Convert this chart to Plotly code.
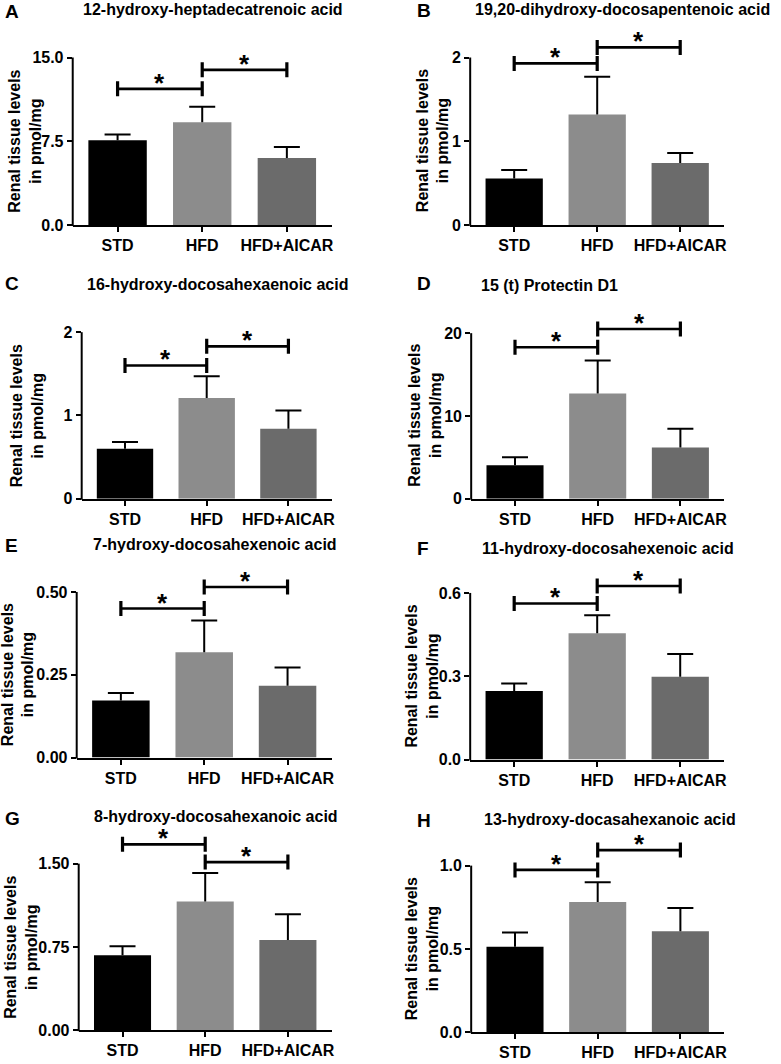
import plotly.graph_objects as go

W, H = 781, 1064

groups = ["STD", "HFD", "HFD+AICAR"]
bar_colors = ["#000000", "#8c8c8c", "#6b6b6b"]

letters = ["A", "B", "C", "D", "E", "F", "G", "H"]
titles = [
    "12-hydroxy-heptadecatrenoic acid",
    "19,20-dihydroxy-docosapentenoic acid",
    "16-hydroxy-docosahexaenoic acid",
    "15 (t) Protectin D1",
    "7-hydroxy-docosahexenoic acid",
    "11-hydroxy-docosahexenoic acid",
    "8-hydroxy-docosahexanoic acid",
    "13-hydroxy-docasahexanoic acid",
]

# means and SEM (upper error) per panel, order STD, HFD, HFD+AICAR
mean_A = [7.6, 9.2, 6.0];      sem_A = [0.5, 1.4, 1.0]
mean_B = [0.556, 1.32, 0.74];  sem_B = [0.10, 0.45, 0.12]
mean_C = [0.60, 1.21, 0.84];   sem_C = [0.08, 0.26, 0.22]
mean_D = [4.06, 12.7, 6.2];    sem_D = [0.94, 4.0, 2.25]
mean_E = [0.172, 0.318, 0.217]; sem_E = [0.023, 0.096, 0.055]
mean_F = [0.247, 0.455, 0.298]; sem_F = [0.027, 0.065, 0.082]
mean_G = [0.674, 1.158, 0.813]; sem_G = [0.083, 0.258, 0.232]
mean_H = [0.513, 0.781, 0.606]; sem_H = [0.085, 0.119, 0.139]

# significance bracket heights: [STD vs HFD, HFD vs HFD+AICAR]
brk_A = [12.2, 13.9]
brk_B = [1.93, 2.12]
brk_C = [1.60, 1.83]
brk_D = [18.3, 20.5]
brk_E = [0.45, 0.515]
brk_F = [0.562, 0.625]
brk_G = [1.674, 1.514]
brk_H = [0.974, 1.093]
sig_pairs = [(0, 1), (1, 2)]

# y ticks
ytick_A = [0, 7.5, 15];     ylab_A = ["0.0", "7.5", "15.0"]
ytick_B = [0, 1, 2];        ylab_B = ["0", "1", "2"]
ytick_C = [0, 1, 2];        ylab_C = ["0", "1", "2"]
ytick_D = [0, 10, 20];      ylab_D = ["0", "10", "20"]
ytick_E = [0, 0.25, 0.5];   ylab_E = ["0.00", "0.25", "0.50"]
ytick_F = [0, 0.3, 0.6];    ylab_F = ["0.0", "0.3", "0.6"]
ytick_G = [0, 0.75, 1.5];   ylab_G = ["0.00", "0.75", "1.50"]
ytick_H = [0, 0.5, 1.0];    ylab_H = ["0.0", "0.5", "1.0"]

means = [mean_A, mean_B, mean_C, mean_D, mean_E, mean_F, mean_G, mean_H]
sems = [sem_A, sem_B, sem_C, sem_D, sem_E, sem_F, sem_G, sem_H]
brks = [brk_A, brk_B, brk_C, brk_D, brk_E, brk_F, brk_G, brk_H]
yticks = [ytick_A, ytick_B, ytick_C, ytick_D, ytick_E, ytick_F, ytick_G, ytick_H]
ylabs = [ylab_A, ylab_B, ylab_C, ylab_D, ylab_E, ylab_F, ylab_G, ylab_H]

# layout geometry in pixels: axis left, axis right, axis bottom, top tick
geom = [
    (73, 333, 227, 58),
    (472, 727, 227, 58),
    (82, 333, 503, 335),
    (473, 727, 503, 336),
    (77, 333, 764, 597),
    (472, 727, 766, 598),
    (79, 333, 1039, 871),
    (473, 727, 1041, 873),
]
title_pos = [(214, 10), (625, 10), (218, 287), (552, 288), (216, 549), (610, 553), (217, 823), (612, 826)]
letter_pos = [(3, 12), (417, 11), (3, 286), (417, 286), (3, 550), (417, 553), (3, 825), (417, 827)]
ytitle_pos = [(25, 142), (434, 142), (28, 419), (427, 419), (18, 680), (424, 682), (21, 955), (424, 957)]

FONT = "Liberation Sans, Arial, sans-serif"
EXT = 1.25
XR = [-0.53, 2.53]

fig = go.Figure()
shapes = []
annotations = []
layout_axes = {}

for i in range(8):
    n = "" if i == 0 else str(i + 1)
    xa, ya = "x" + n, "y" + n
    left, right, y0, ytop = geom[i]
    tmax = yticks[i][-1]
    ytop_ext = y0 - EXT * (y0 - ytop)

    fig.add_trace(go.Bar(
        x=list(range(3)), y=means[i], xaxis=xa, yaxis=ya,
        marker=dict(color=bar_colors, line=dict(width=0)),
        width=0.69, showlegend=False, hoverinfo="skip",
    ))

    layout_axes["xaxis" + n] = dict(
        domain=[left / W, right / W], anchor=ya, range=XR,
        tickmode="array", tickvals=list(range(3)), ticktext=groups,
        showline=True, linecolor="black", linewidth=2,
        ticks="outside", ticklen=5, tickwidth=2, tickcolor="black",
        tickfont=dict(family=FONT, size=16, color="black", weight="bold"),
        showgrid=False, zeroline=False, fixedrange=True,
    )
    layout_axes["yaxis" + n] = dict(
        domain=[1 - y0 / H, 1 - ytop_ext / H], anchor=xa,
        range=[0, EXT * tmax],
        tickmode="array", tickvals=yticks[i], ticktext=ylabs[i],
        showline=False, ticks="outside", ticklen=5, tickwidth=2, tickcolor="black",
        tickfont=dict(family=FONT, size=16, color="black", weight="bold"),
        showgrid=False, zeroline=False, fixedrange=True,
    )

    # y axis line drawn up to the top tick only
    shapes.append(dict(type="line", xref="paper", yref="paper",
                       x0=left / W, x1=left / W, y0=1 - (y0 + 1) / H, y1=1 - ytop / H,
                       line=dict(color="black", width=2)))

    # upper SEM error bars
    for k in range(3):
        top = means[i][k] + sems[i][k]
        shapes.append(dict(type="line", xref=xa, yref=ya, x0=k, x1=k,
                           y0=means[i][k], y1=top, line=dict(color="black", width=2)))
        shapes.append(dict(type="line", xref=xa, yref=ya, xsizemode="pixel", xanchor=k,
                           x0=-13, x1=13, y0=top, y1=top, line=dict(color="black", width=2)))

    # significance brackets
    for (a, b), yb in zip(sig_pairs, brks[i]):
        shapes.append(dict(type="line", xref=xa, yref=ya, x0=a, x1=b, y0=yb, y1=yb,
                           line=dict(color="black", width=2.7)))
        for xc in (a, b):
            shapes.append(dict(type="line", xref=xa, yref=ya, x0=xc, x1=xc,
                               ysizemode="pixel", yanchor=yb, y0=-7.5, y1=7.5,
                               line=dict(color="black", width=3.2)))
        annotations.append(dict(xref=xa, yref=ya, x=(a + b) / 2, y=yb, text="*",
                                showarrow=False, yanchor="middle", yshift=6,
                                font=dict(family=FONT, size=26, color="black", weight="bold")))

    tx, ty = title_pos[i]
    annotations.append(dict(xref="paper", yref="paper", x=tx / W, y=1 - ty / H,
                            text=titles[i], showarrow=False, xanchor="center", yanchor="middle",
                            font=dict(family=FONT, size=16, color="black", weight="bold")))
    lx, ly = letter_pos[i]
    annotations.append(dict(xref="paper", yref="paper", x=lx / W, y=1 - ly / H,
                            text=letters[i], showarrow=False, xanchor="left", yanchor="middle",
                            font=dict(family=FONT, size=19, color="black", weight="bold")))
    yx, yy = ytitle_pos[i]
    annotations.append(dict(xref="paper", yref="paper", x=yx / W, y=1 - yy / H,
                            text="Renal tissue levels<br>in pmol/mg", textangle=-90,
                            showarrow=False, xanchor="center", yanchor="middle",
                            font=dict(family=FONT, size=16, color="black", weight="bold")))

fig.update_layout(
    width=W, height=H,
    margin=dict(l=0, r=0, t=0, b=0),
    paper_bgcolor="white", plot_bgcolor="rgba(0,0,0,0)",
    shapes=shapes, annotations=annotations,
    showlegend=False,
    **layout_axes,
)

fig.write_html(
    "out.html",
    config={"displayModeBar": False},
    post_script="document.body.style.margin='0';document.body.style.padding='0';",
)
